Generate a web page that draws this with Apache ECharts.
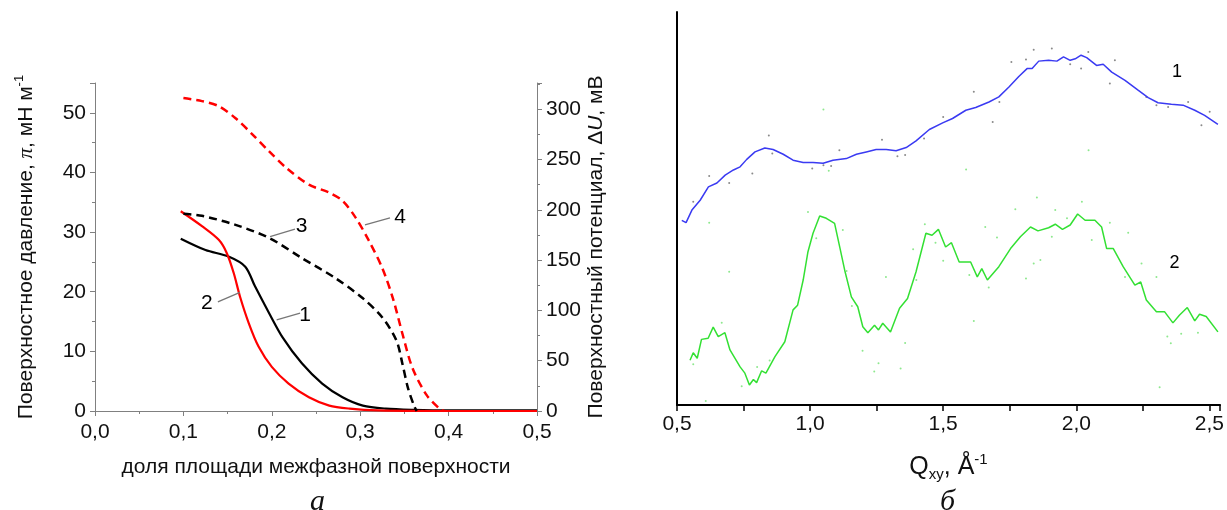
<!DOCTYPE html>
<html>
<head>
<meta charset="utf-8">
<script src="https://cdn.jsdelivr.net/npm/echarts@6/dist/echarts.min.js"></script>
<style>
  html, body { margin: 0; padding: 0; background: #fff; }
  #main { width: 1227px; height: 510px; }
</style>
</head>
<body>
<div id="main"></div>
<script>
// панель а: доля площади -> давление (1, 2) и потенциал (3, 4)
var curve1 = [[0.097,28.9],[0.125,27.0],[0.151,25.9],[0.170,24.2],[0.181,20.9],[0.197,16.4],[0.212,12.4],[0.234,8.0],[0.257,4.6],[0.280,2.3],[0.303,0.9],[0.329,0.4],[0.36,0.2],[0.40,0.1],[0.50,0.1]];
var curve2 = [[0.097,33.5],[0.121,31.0],[0.140,28.7],[0.149,26.5],[0.157,23.1],[0.164,19.2],[0.174,14.7],[0.185,10.8],[0.200,7.4],[0.219,4.6],[0.242,2.3],[0.265,0.9],[0.288,0.4],[0.32,0.1],[0.40,0.0],[0.50,0.0]];
var curve3 = [[0.100,196],[0.121,194],[0.159,185],[0.197,172],[0.234,152],[0.272,132],[0.303,112],[0.325,93],[0.341,70],[0.348,46],[0.354,23],[0.361,5],[0.364,0]];
var curve4 = [[0.100,311],[0.121,308],[0.140,303],[0.159,291],[0.178,275],[0.197,258],[0.216,242],[0.242,225],[0.265,217],[0.280,209],[0.295,192],[0.310,169],[0.325,142],[0.337,112],[0.348,76],[0.359,43],[0.375,16],[0.390,2],[0.395,0]];

// выноски с номерами кривых: [текст, [x, y] подписи, [x1, y1], [x2, y2]]
var leftNotesPi = [['1',[0.2376,16.1],[0.2055,15.3],[0.232,16.4]],['2',[0.1264,18.1],[0.139,18.3],[0.164,19.9]]];
var leftNotesU = [['3',[0.2338,183.3],[0.198,173.3],[0.2262,180.7]],['4',[0.345,192.9],[0.3054,185],[0.3337,191.9]]];

// панель б: Qxy -> интенсивность (отн. ед.)
var blueLine = [[0.518,47.0],[0.534,46.4],[0.556,49.6],[0.587,52.1],[0.618,55.5],[0.650,56.5],[0.681,58.5],[0.712,59.8],[0.737,60.6],[0.762,62.5],[0.793,64.4],[0.830,65.4],[0.861,65.0],[0.899,63.8],[0.936,62.3],[0.974,61.7],[1.011,61.7],[1.049,61.5],[1.086,62.3],[1.136,62.7],[1.174,63.8],[1.211,64.4],[1.248,65.0],[1.286,65.0],[1.323,64.7],[1.361,65.5],[1.398,67.2],[1.448,70.1],[1.498,71.8],[1.535,72.9],[1.585,75.0],[1.622,75.7],[1.672,77.1],[1.709,78.4],[1.747,80.9],[1.784,83.6],[1.815,85.6],[1.834,85.6],[1.859,87.5],[1.896,87.7],[1.927,87.5],[1.952,88.6],[1.977,87.7],[1.996,88.1],[2.018,89.0],[2.039,88.4],[2.076,86.4],[2.101,86.7],[2.133,84.7],[2.183,82.6],[2.232,80.1],[2.270,78.2],[2.307,76.9],[2.357,76.5],[2.401,76.3],[2.445,75.0],[2.482,73.7],[2.532,71.4]];
var greenLine = [[0.549,11.4],[0.561,13.3],[0.576,11.9],[0.592,16.7],[0.617,17.0],[0.636,19.8],[0.655,17.4],[0.680,18.4],[0.699,14.0],[0.737,9.7],[0.755,8.1],[0.772,5.1],[0.787,6.5],[0.799,5.7],[0.818,8.7],[0.834,8.1],[0.868,12.3],[0.905,16.1],[0.936,24.2],[0.953,25.4],[0.974,31.8],[0.992,39.0],[1.011,43.7],[1.036,48.1],[1.061,47.5],[1.092,46.2],[1.111,40.3],[1.130,34.3],[1.155,27.5],[1.179,25.0],[1.198,19.9],[1.217,18.4],[1.242,20.3],[1.257,19.1],[1.273,20.8],[1.302,18.6],[1.336,24.6],[1.366,27.1],[1.398,33.9],[1.435,43.7],[1.458,43.2],[1.482,44.7],[1.509,40.2],[1.531,41.3],[1.560,36.4],[1.603,36.4],[1.628,32.6],[1.645,34.7],[1.666,31.8],[1.709,35.2],[1.753,39.8],[1.790,42.8],[1.828,45.3],[1.856,44.3],[1.896,45.1],[1.921,46.0],[1.948,44.7],[1.977,45.8],[2.005,48.6],[2.033,47.0],[2.070,47.0],[2.095,45.3],[2.114,39.8],[2.139,39.8],[2.176,35.2],[2.220,30.5],[2.242,31.3],[2.263,26.7],[2.301,23.7],[2.332,23.7],[2.363,20.9],[2.388,22.9],[2.417,24.8],[2.445,21.4],[2.463,23.1],[2.488,22.5],[2.532,18.6]];
var grayDots = [[0.561,51.7],[0.621,58.3],[0.696,56.5],[0.783,58.9],[0.845,68.6],[0.858,64.0],[1.008,60.2],[1.050,61.0],[1.079,60.8],[1.110,64.8],[1.270,67.5],[1.328,63.3],[1.357,63.6],[1.428,67.8],[1.500,73.3],[1.615,79.7],[1.686,72.0],[1.711,77.1],[1.756,87.3],[1.811,87.9],[1.840,90.4],[1.908,90.7],[1.977,86.7],[2.018,85.6],[2.045,89.8],[2.126,81.8],[2.145,87.7],[2.263,78.4],[2.301,76.3],[2.345,75.8],[2.420,77.1],[2.470,71.2],[2.501,74.6]];
var greenDots = [[0.621,46.4],[0.696,33.9],[0.608,1.0],[0.561,10.4],[0.668,20.9],[0.743,4.8],[0.801,9.7],[0.848,11.3],[0.992,49.1],[1.023,42.4],[1.050,75.2],[1.070,59.6],[1.123,44.5],[1.137,34.1],[1.157,25.2],[1.197,13.8],[1.241,8.5],[1.257,10.6],[1.285,32.6],[1.340,9.3],[1.357,15.8],[1.387,39.6],[1.399,31.8],[1.431,46.0],[1.471,41.3],[1.500,36.7],[1.586,59.9],[1.598,33.1],[1.615,21.4],[1.658,45.3],[1.671,29.9],[1.702,42.6],[1.771,49.8],[1.811,32.2],[1.840,36.0],[1.852,52.8],[1.865,36.9],[1.908,42.8],[1.921,49.6],[1.965,47.5],[2.021,51.7],[2.046,64.8],[2.058,42.0],[2.126,46.4],[2.195,43.8],[2.183,32.6],[2.245,36.0],[2.301,32.6],[2.342,17.4],[2.355,15.7],[2.394,18.1],[2.457,18.4],[2.313,4.5]];
var rightNotes = [['1',[2.378,84.7]],['2',[2.369,36.0]]];

var FONT = 'Liberation Sans, Arial, sans-serif';
var SERIF = 'Liberation Serif, serif';

function comma(v) { return v.toFixed(1).replace('.', ','); }
function every(step, f) {
  return function (v) {
    var k = v / step;
    return Math.abs(k - Math.round(k)) < 1e-6 ? f(v) : '';
  };
}

function leaderLines(notes) {
  return notes.map(function (n) { return [{ coord: n[2] }, { coord: n[3] }]; });
}
function noteSeries(notes, xi, yi, size) {
  return {
    type: 'scatter', xAxisIndex: xi, yAxisIndex: yi, silent: true,
    symbolSize: 1, itemStyle: { color: 'rgba(0,0,0,0)', opacity: 1 },
    label: { show: true, position: 'inside', color: '#000', fontSize: size, fontFamily: FONT,
      formatter: function (p) { return p.data.name; } },
    data: notes.map(function (n) { return { name: n[0], value: n[1] }; }),
    z: 5
  };
}

var myChart = echarts.init(document.getElementById('main'));
var leftAxisCommon = {
  axisLine: { show: true, lineStyle: { color: '#808080', width: 1 } },
  axisTick: { show: true, inside: false, length: 5, lineStyle: { color: '#808080' } },
  minorTick: { show: true, splitNumber: 2, length: 3, lineStyle: { color: '#808080' } },
  splitLine: { show: false },
  axisLabel: { color: '#111', fontSize: 21, fontFamily: FONT }
};

var option = {
  animation: false,
  title: [
    { text: 'а', left: 305, top: 482, textStyle: { fontFamily: SERIF, fontStyle: 'italic', fontWeight: 'normal', fontSize: 30, color: '#111' } },
    { text: 'б', left: 935, top: 482, textStyle: { fontFamily: SERIF, fontStyle: 'italic', fontWeight: 'normal', fontSize: 30, color: '#111' } }
  ],
  grid: [
    { left: 95, top: 83, width: 442, height: 328 },
    { left: 677, top: 12, width: 545, height: 393 }
  ],
  xAxis: [
    Object.assign({}, leftAxisCommon, {
      gridIndex: 0, type: 'value', min: 0, max: 0.5, interval: 0.1,
      axisLabel: Object.assign({}, leftAxisCommon.axisLabel, { margin: 11, formatter: comma }),
      name: 'доля площади межфазной поверхности', nameLocation: 'middle', nameGap: 46,
      nameTextStyle: { color: '#111', fontSize: 21, fontFamily: FONT }
    }),
    {
      gridIndex: 1, type: 'value', min: 0.5, max: 2.54, interval: 0.5,
      axisLine: { show: true, lineStyle: { color: '#000', width: 2 } },
      axisTick: { show: true, length: 6, lineStyle: { color: '#000', width: 1.5 } },
      minorTick: { show: true, splitNumber: 2, length: 6, lineStyle: { color: '#000', width: 1.5 } },
      splitLine: { show: false },
      axisLabel: { color: '#111', fontSize: 21, fontFamily: FONT, margin: 9, formatter: every(0.5, comma) },
      name: 'Q{sub|xy}, Å{sup|-1}', nameLocation: 'middle', nameGap: 47,
      nameTextStyle: { color: '#111', fontSize: 25, fontFamily: FONT, lineHeight: 30,
        rich: {
          sub: { fontSize: 15, fontFamily: FONT, color: '#111', verticalAlign: 'bottom', lineHeight: 16 },
          sup: { fontSize: 15, fontFamily: FONT, color: '#111', verticalAlign: 'top', lineHeight: 16 }
        } }
    }
  ],
  yAxis: [
    Object.assign({}, leftAxisCommon, {
      gridIndex: 0, type: 'value', min: 0, max: 55, interval: 10, position: 'left',
      axisLabel: Object.assign({}, leftAxisCommon.axisLabel, { margin: 9, formatter: every(10, String) }),
      name: 'Поверхностное давление, {i|π}, мН м{sup|-1}', nameLocation: 'middle', nameGap: 56, nameRotate: 90,
      nameTextStyle: { color: '#111', fontSize: 21, fontFamily: FONT, lineHeight: 26,
        rich: {
          i: { fontSize: 21, fontFamily: SERIF, fontStyle: 'italic', color: '#111' },
          sup: { fontSize: 13, fontFamily: FONT, color: '#111', verticalAlign: 'top', lineHeight: 14 }
        } }
    }),
    Object.assign({}, leftAxisCommon, {
      gridIndex: 0, type: 'value', min: 0, max: 326, interval: 50, position: 'right',
      axisLabel: Object.assign({}, leftAxisCommon.axisLabel, { margin: 9, formatter: every(50, String) }),
      name: 'Поверхностный потенциал, Δ{i|U}, мВ', nameLocation: 'middle', nameGap: 49, nameRotate: 90,
      nameTextStyle: { color: '#111', fontSize: 21, fontFamily: FONT,
        rich: { i: { fontSize: 21, fontFamily: FONT, fontStyle: 'italic', color: '#111' } } }
    }),
    {
      gridIndex: 1, type: 'value', min: 0, max: 100,
      axisLine: { show: true, lineStyle: { color: '#000', width: 2 } },
      axisTick: { show: false }, axisLabel: { show: false }, splitLine: { show: false }
    }
  ],
  series: [
    {
      name: '1', type: 'line', xAxisIndex: 0, yAxisIndex: 0, data: curve1,
      showSymbol: false, smooth: 0.3, lineStyle: { color: '#000', width: 2.2 },
      markLine: { silent: true, symbol: ['none', 'none'], label: { show: false },
        lineStyle: { color: '#777', type: 'solid', width: 1.3 }, data: leaderLines(leftNotesPi) }
    },
    {
      name: '2', type: 'line', xAxisIndex: 0, yAxisIndex: 0, data: curve2,
      showSymbol: false, smooth: 0.3, lineStyle: { color: '#ff0000', width: 2.2 }
    },
    {
      name: '3', type: 'line', xAxisIndex: 0, yAxisIndex: 1, data: curve3,
      showSymbol: false, smooth: 0.3, lineStyle: { color: '#000', width: 2.5, type: [8, 5] },
      markLine: { silent: true, symbol: ['none', 'none'], label: { show: false },
        lineStyle: { color: '#777', type: 'solid', width: 1.3 }, data: leaderLines(leftNotesU) }
    },
    {
      name: '4', type: 'line', xAxisIndex: 0, yAxisIndex: 1, data: curve4,
      showSymbol: false, smooth: 0.3, lineStyle: { color: '#ff0000', width: 2.5, type: [8, 5] }
    },
    noteSeries(leftNotesPi, 0, 0, 21),
    noteSeries(leftNotesU, 0, 1, 21),
    {
      type: 'scatter', xAxisIndex: 1, yAxisIndex: 2, data: grayDots,
      symbolSize: 2, itemStyle: { color: '#8a8a8a', opacity: 1 }
    },
    {
      type: 'scatter', xAxisIndex: 1, yAxisIndex: 2, data: greenDots,
      symbolSize: 2, itemStyle: { color: '#8ee88e', opacity: 1 }
    },
    {
      type: 'line', xAxisIndex: 1, yAxisIndex: 2, data: blueLine,
      showSymbol: false, lineStyle: { color: '#3a3af2', width: 1.5 }
    },
    {
      type: 'line', xAxisIndex: 1, yAxisIndex: 2, data: greenLine,
      showSymbol: false, lineStyle: { color: '#33e033', width: 1.5 }
    },
    noteSeries(rightNotes, 1, 2, 18)
  ]
};
myChart.setOption(option);
window.addEventListener('resize', function () { myChart.resize(); });
</script>
</body>
</html>
